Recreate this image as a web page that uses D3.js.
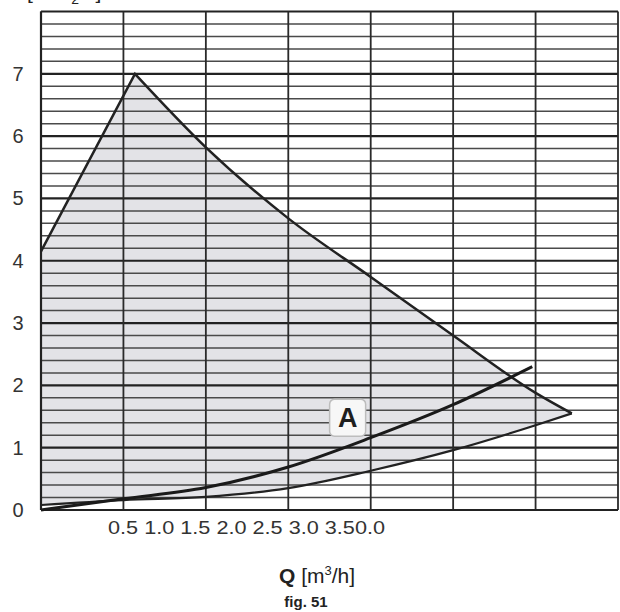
<!DOCTYPE html>
<html><head><meta charset="utf-8">
<script src="https://cdn.jsdelivr.net/npm/d3@7"></script>
<style>body{margin:0;background:#fff}svg{display:block}</style>
</head><body>
<svg id="c" width="620" height="612"></svg>
<script>
// ---- data ----
const yTickValues = [0,1,2,3,4,5,6,7];
const xTickLabels = ["0.5","1.0","1.5","2.0","2.5","3.0","3.5","0.0"];
// upper envelope of the working range (Q, H)
const envelopeTopQ = [0, 0.57, 1.0, 1.5, 2.0, 2.5, 3.0, 3.22];
const envelopeTopH = [4.15, 7.0, 5.82, 4.68, 3.74, 2.80, 1.88, 1.55];
// lower envelope (Q, H)
const envelopeLowQ = [0, 0.5, 1.0, 1.5, 2.0, 2.5, 3.0, 3.22];
const envelopeLowH = [0.08, 0.16, 0.21, 0.35, 0.63, 0.96, 1.36, 1.55];
// curve A (Q, H)
const curveAQ = [0, 0.5, 1.0, 1.5, 2.0, 2.5, 2.98];
const curveAH = [0, 0.18, 0.36, 0.69, 1.16, 1.69, 2.30];

(function () {
const svg = d3.select("#c");
const x = d3.scaleLinear().domain([0, 3.5]).range([41, 618]);
const y = d3.scaleLinear().domain([0, 8]).range([510, 11.5]);

const zip = (a, b) => a.map((v, i) => [v, b[i]]);
const topPts = zip(envelopeTopQ, envelopeTopH);
const lowPts = zip(envelopeLowQ, envelopeLowH);
const aPts = zip(curveAQ, curveAH);

const line = d3.line().x(d => x(d[0])).y(d => y(d[1]));
const smooth = d3.line().x(d => x(d[0])).y(d => y(d[1])).curve(d3.curveMonotoneX);

const topLeft = topPts.slice(0, 2);
const topRight = topPts.slice(1);
const topPath = line(topLeft) + "L" + smooth(topRight).slice(1);

// fill region
const fillPath = `M${x(0)},${y(0)}L` + line(topLeft).slice(1) + "L" + smooth(topRight).slice(1)
  + "L" + smooth(lowPts.slice().reverse()).slice(1) + "Z";
svg.append("path").attr("d", fillPath).attr("fill", "#e3e3e7").attr("stroke", "none");

// grid
const minor = d3.range(0, 8.001, 0.2).map(v => +v.toFixed(1));
const isMajor = d => Math.abs(d - Math.round(d)) < 1e-6;
svg.append("g").selectAll("line").data(minor).join("line")
  .attr("x1", x(0)).attr("x2", x(3.5))
  .attr("y1", d => y(d)).attr("y2", d => y(d))
  .attr("stroke", d => isMajor(d) ? "#222" : "#4a4a4a")
  .attr("stroke-width", d => isMajor(d) ? 2.2 : 1.5);
svg.append("g").selectAll("line").data(d3.range(0, 3.501, 0.5)).join("line")
  .attr("y1", y(0)).attr("y2", y(8))
  .attr("x1", d => x(d)).attr("x2", d => x(d))
  .attr("stroke", "#2a2a2a").attr("stroke-width", 1.8);
svg.append("line").attr("x1", x(0)).attr("x2", x(0)).attr("y1", y(0)).attr("y2", y(8))
  .attr("stroke", "#222").attr("stroke-width", 2.2);
svg.append("line").attr("x1", x(0)).attr("x2", x(3.5)).attr("y1", y(0)).attr("y2", y(0))
  .attr("stroke", "#222").attr("stroke-width", 2.2);

// envelope outlines
svg.append("path").attr("d", topPath).attr("fill", "none")
  .attr("stroke", "#222").attr("stroke-width", 2.5);
svg.append("path").attr("d", smooth(lowPts))
  .attr("fill", "none").attr("stroke", "#222").attr("stroke-width", 2.2);
// curve A
svg.append("path").attr("d", smooth(aPts))
  .attr("fill", "none").attr("stroke", "#1a1a1a").attr("stroke-width", 3);

// label A
const lg = svg.append("g").attr("transform", `translate(${x(1.86)},${y(1.49)})`);
lg.append("rect").attr("x", -18).attr("y", -18).attr("width", 36).attr("height", 37)
  .attr("rx", 5).attr("fill", "#f7f7f7").attr("stroke", "#bdbdbd").attr("stroke-width", 1.5);
lg.append("text").attr("text-anchor", "middle").attr("y", 10)
  .attr("font-family", "Liberation Sans, Arial, sans-serif").attr("font-weight", "bold")
  .attr("font-size", 27).attr("fill", "#1e1e1e").text("A");

// y tick labels
svg.append("g").selectAll("text").data(yTickValues).join("text")
  .attr("x", 18).attr("y", d => y(d) + 7).attr("text-anchor", "middle")
  .attr("font-family", "Liberation Sans, Arial, sans-serif").attr("font-size", 20)
  .attr("fill", "#333").text(d => d);

// x tick labels (as printed)
const xLabelStr = xTickLabels.slice(0, -1).join(" ") + xTickLabels[xTickLabels.length - 1];
svg.append("text").attr("x", 108).attr("y", 534)
  .attr("font-family", "Liberation Sans, Arial, sans-serif").attr("font-size", 19)
  .attr("fill", "#333").attr("textLength", 277).attr("lengthAdjust", "spacingAndGlyphs")
  .text(xLabelStr);

// axis titles
const qt = svg.append("text").attr("x", 279).attr("y", 583)
  .attr("font-family", "Liberation Sans, Arial, sans-serif").attr("font-size", 21).attr("fill", "#222");
qt.append("tspan").attr("font-weight", "bold").text("Q");
qt.append("tspan").text(" [m");
qt.append("tspan").attr("font-size", 13).attr("dy", -8).text("3");
qt.append("tspan").attr("dy", 8).text("/h]");

svg.append("text").attr("x", 306).attr("y", 607).attr("text-anchor", "middle")
  .attr("font-family", "Liberation Sans, Arial, sans-serif").attr("font-size", 15)
  .attr("font-weight", "bold").attr("fill", "#222").text("fig. 51");

const ht = svg.append("text").attr("x", 6).attr("y", -1)
  .attr("font-family", "Liberation Sans, Arial, sans-serif").attr("font-size", 21).attr("fill", "#222");
ht.append("tspan").attr("font-weight", "bold").text("H");
ht.append("tspan").text(" [m H");
ht.append("tspan").attr("font-size", 14).attr("dy", 5).text("2");
ht.append("tspan").attr("dy", -5).text("O]");
})();
</script>
</body></html>
